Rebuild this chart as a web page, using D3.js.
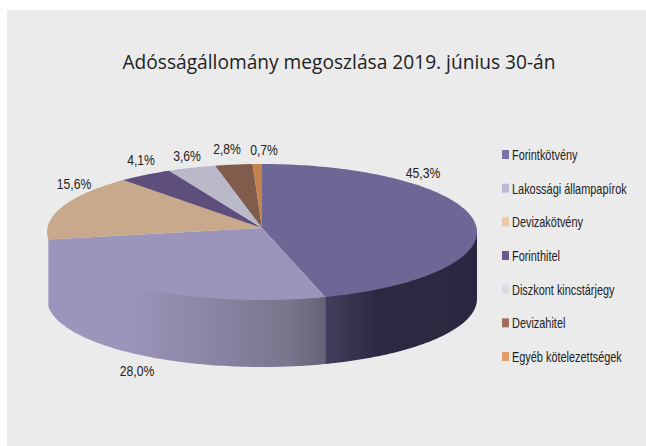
<!DOCTYPE html>
<html>
<head>
<meta charset="utf-8">
<script src="https://cdnjs.cloudflare.com/ajax/libs/d3/7.8.5/d3.min.js"></script>
<style>
  html, body { margin: 0; padding: 0; background: #fff; }
  svg { display: block; }
  text { fill: #222; }
</style>
</head>
<body>
<svg id="chart" width="646" height="446"></svg>
<script>
var titleText = "Adósságállomány megoszlása 2019. június 30-án";
var categories = ["Forintkötvény", "Lakossági állampapírok", "Devizakötvény", "Forinthitel", "Diszkont kincstárjegy", "Devizahitel", "Egyéb kötelezettségek"];
var values = [45.3, 28.0, 15.6, 4.1, 3.6, 2.8, 0.7];
var valueLabels = ["45,3%", "28,0%", "15,6%", "4,1%", "3,6%", "2,8%", "0,7%"];
var topColors = ["#6e6694", "#9b95bb", "#c9a98c", "#5e4e7c", "#b9b9c9", "#7f5c4c", "#c4824f"];
var legendColors = ["#7d72a8", "#bdb6d6", "#eac9a8", "#6b5a90", "#dcdce6", "#a06f5a", "#e49e6c"];

var cx = 262, cy = 232, rx = 215, ry = 68, depth = 67;
var apex = [262, 228];

var svg = d3.select("#chart");

svg.append("rect")
    .attr("x", 7).attr("y", 10)
    .attr("width", 639).attr("height", 436)
    .attr("fill", "#ebebeb");

// horizontal gradients on the side wall
var defs = svg.append("defs");
function wallGradient(id, stops) {
    var first = stops[0][0], last = stops[stops.length - 1][0];
    var g = defs.append("linearGradient")
        .attr("id", id)
        .attr("gradientUnits", "userSpaceOnUse")
        .attr("x1", first).attr("x2", last)
        .attr("y1", 0).attr("y2", 0);
    stops.forEach(function (s) {
        g.append("stop")
            .attr("offset", (s[0] - first) / (last - first))
            .attr("stop-color", s[1]);
    });
}
wallGradient("wallLight", [[47, "#9b95bb"], [125, "#9b95bb"], [165, "#958db0"], [230, "#87809f"], [290, "#78758c"], [327, "#646176"]]);
wallGradient("wallDark", [[327, "#423d5c"], [375, "#2c2a42"], [477, "#2a2840"]]);

var pie = d3.pie().sort(null).value(function (d) { return d; });
var arcs = pie(values);

function edgePoint(a, dy, k) {
    var f = k || 1;
    return [cx + f * rx * Math.sin(a), cy - f * ry * Math.cos(a) + (dy || 0)];
}
function edgePoints(a0, a1, dy, k) {
    var n = Math.max(2, Math.ceil((a1 - a0) * 60));
    return d3.range(n + 1).map(function (i) {
        return edgePoint(a0 + (a1 - a0) * i / n, dy, k);
    });
}
var line = d3.line();

// side wall, only the front half of the ellipse shows
// upper edge is pulled in a bit so no seam shows under the top face
var frontStart = Math.PI / 2, frontEnd = Math.PI * 3 / 2;
[[arcs[0], "url(#wallDark)"], [arcs[1], "url(#wallLight)"]].forEach(function (w) {
    var a0 = Math.max(w[0].startAngle, frontStart);
    var a1 = Math.min(w[0].endAngle, frontEnd);
    var pts = [edgePoint(a0, 0)]
        .concat(edgePoints(a0, a1, 0, 0.97))
        .concat([edgePoint(a1, 0)])
        .concat(edgePoints(a0, a1, depth).reverse());
    svg.append("path").attr("d", line(pts) + "Z").attr("fill", w[1]);
});

// top face
svg.selectAll("path.slice")
    .data(arcs)
    .enter()
    .append("path")
    .attr("class", "slice")
    .attr("fill", function (d, i) { return topColors[i]; })
    .attr("d", function (d) {
        return line([apex].concat(edgePoints(d.startAngle, d.endAngle, 0))) + "Z";
    });

svg.append("text")
    .attr("x", 339).attr("y", 69)
    .attr("text-anchor", "middle")
    .attr("font-family", "'Open Sans', sans-serif")
    .attr("font-size", 20)
    .attr("textLength", 433)
    .attr("lengthAdjust", "spacingAndGlyphs")
    .text(titleText);

// value labels, squeezed since the original face is condensed
var labelX = [423, 137, 74, 141, 187, 227, 264];
var labelY = [178, 376, 189, 165, 161, 154, 155];
svg.selectAll("text.val")
    .data(valueLabels)
    .enter()
    .append("text")
    .attr("class", "val")
    .attr("transform", function (d, i) {
        return "translate(" + labelX[i] + "," + labelY[i] + ") scale(0.84,1)";
    })
    .attr("text-anchor", "middle")
    .attr("font-family", "'Liberation Sans', sans-serif")
    .attr("font-size", 14.5)
    .text(function (d) { return d; });

// legend
var legendY = d3.scalePoint().domain(categories).range([155, 357]);
var legend = svg.selectAll("g.leg")
    .data(categories)
    .enter()
    .append("g")
    .attr("class", "leg")
    .attr("transform", function (d) { return "translate(0," + legendY(d) + ")"; });
legend.append("rect")
    .attr("x", 502).attr("y", -5)
    .attr("width", 7).attr("height", 9)
    .attr("fill", function (d, i) { return legendColors[i]; });
legend.append("text")
    .attr("transform", "translate(512,5) scale(0.78,1)")
    .attr("font-family", "'Liberation Sans', sans-serif")
    .attr("font-size", 14)
    .text(function (d) { return d; });
</script>
</body>
</html>
